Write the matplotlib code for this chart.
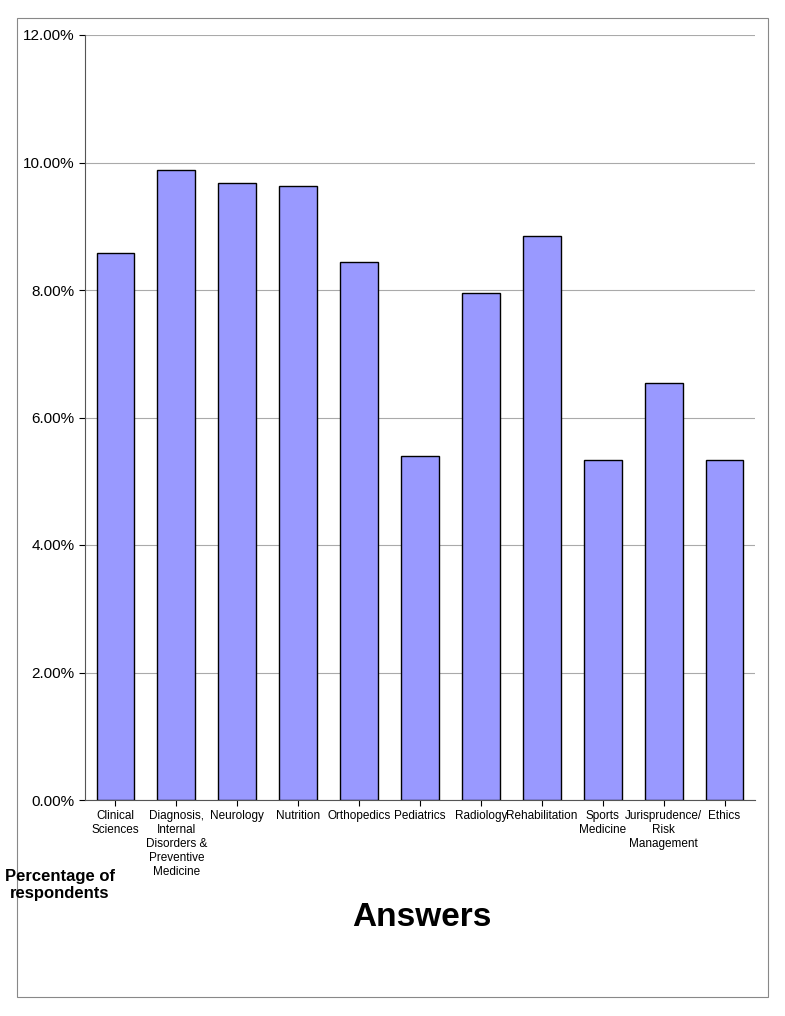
import matplotlib
matplotlib.use("Agg")
import matplotlib.pyplot as plt
from matplotlib.patches import Rectangle
from matplotlib.ticker import FuncFormatter

plt.rcParams["font.family"] = ["Liberation Sans Narrow", "Liberation Sans", "DejaVu Sans"]

categories = ["Clinical\nSciences", "Diagnosis,\nInternal\nDisorders &\nPreventive\nMedicine",
              "Neurology", "Nutrition", "Orthopedics", "Pediatrics", "Radiology",
              "Rehabilitation", "Sports\nMedicine", "Jurisprudence/\nRisk\nManagement", "Ethics"]
values = [8.58, 9.88, 9.68, 9.63, 8.44, 5.40, 7.96, 8.85, 5.33, 6.54, 5.33]
yticks = [0, 2, 4, 6, 8, 10, 12]

W, H = 785, 1016
fig = plt.figure(figsize=(W/100, H/100), dpi=100)
fig.patches.append(Rectangle((17/W, 1-997/H), (768-17)/W, (997-18)/H, transform=fig.transFigure,
                             fill=False, edgecolor="#888888", linewidth=0.8))
ax = fig.add_axes([85/W, 1-800/H, (755-85)/W, (800-35)/H])
x = range(len(categories))
ax.bar(x, values, width=0.62, color="#9999FF", edgecolor="black", linewidth=1, zorder=3)
ax.set_xlim(-0.5, len(categories)-0.5)
ax.set_ylim(0, 12)
ax.set_yticks(yticks)
ax.yaxis.set_major_formatter(FuncFormatter(lambda v, p: f"{v:.2f}%"))
ax.tick_params(axis="y", labelsize=11, length=4)
ax.set_xticks(list(x))
ax.set_xticklabels(categories, fontsize=8.5, va="top")
ax.tick_params(axis="x", length=4)
ax.grid(axis="y", color="#aaaaaa", linewidth=0.8, zorder=0)
for s in ["top", "right"]:
    ax.spines[s].set_visible(False)
ax.spines["left"].set_color("#555555")
ax.spines["bottom"].set_color("#555555")
fig.text(60/W, 1-885/H, "Percentage of\nrespondents", ha="center", va="center",
         fontsize=12, fontweight="bold")
fig.text(422/W, 1-918/H, "Answers", ha="center", va="center", fontsize=24, fontweight="bold")
fig.savefig("out.png", dpi=100)
